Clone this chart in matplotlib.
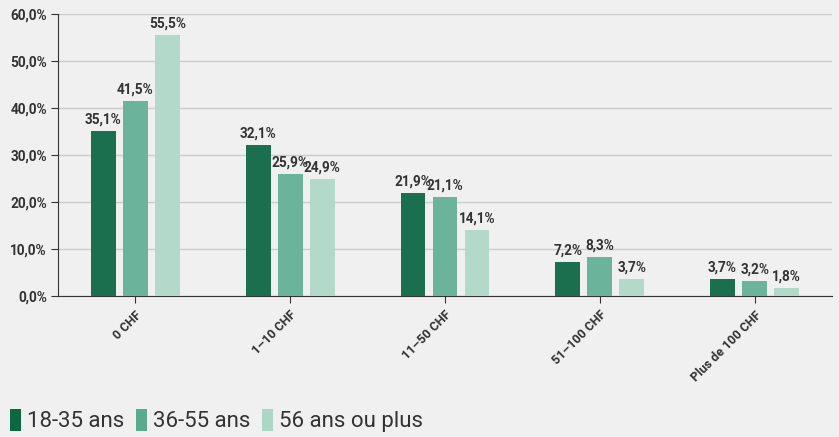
import matplotlib
matplotlib.use("Agg")
import matplotlib.pyplot as plt
import numpy as np
from matplotlib.patches import Patch
from matplotlib.ticker import FuncFormatter

plt.rcParams['font.family'] = ['Roboto', 'DejaVu Sans']

categories = ["0 CHF", "1–10 CHF", "11–50 CHF", "51–100 CHF", "Plus de 100 CHF"]
series_names = ["18-35 ans", "36-55 ans", "56 ans ou plus"]
s1 = [35.1, 32.1, 21.9, 7.2, 3.7]
s2 = [41.5, 25.9, 21.1, 8.3, 3.2]
s3 = [55.5, 24.9, 14.1, 3.7, 1.8]
series = [s1, s2, s3]
colors = ["#1b6f4f", "#6bb39a", "#b2d9ca"]
legend_colors = ["#0e6642", "#5aab8d", "#acd7c6"]
yticks = [0, 10, 20, 30, 40, 50, 60]

bg = "#f0f0f0"
fig = plt.figure(figsize=(8.39, 4.37), dpi=100, facecolor=bg)
ax = fig.add_axes([0.0691, 0.3227, 0.9226, 0.6453], facecolor=bg)

x = np.arange(len(categories))
step = 0.207
width = 0.16
for i, (vals, c) in enumerate(zip(series, colors)):
    pos = x + (i - 1) * step
    ax.bar(pos, vals, width=width, color=c, zorder=3)
    for p, v in zip(pos, vals):
        ax.text(p, v + 0.9, f"{v:.1f}%".replace(".", ","), ha="center", va="bottom",
                fontsize=9.8, fontweight="bold", color="#333333", zorder=4)

ax.set_xlim(-0.5, len(categories) - 0.5)
ax.set_ylim(0, 60)
ax.set_yticks(yticks)
ax.yaxis.set_major_formatter(FuncFormatter(lambda v, p: f"{v:.1f}%".replace(".", ",")))
ax.grid(axis="y", color="#cccccc", linewidth=1, zorder=0)
ax.set_xticks(x)
ax.set_xticklabels(categories, rotation=45, ha="right", rotation_mode="anchor",
                   fontsize=9, fontweight="bold", color="#333333")
for lab in ax.get_yticklabels():
    lab.set_fontweight("bold")
    lab.set_fontsize(9.8)
    lab.set_color("#333333")
ax.tick_params(axis="x", length=5, color="#333333", pad=4)
ax.tick_params(axis="y", length=5, color="#333333", pad=3)
for s in ["top", "right"]:
    ax.spines[s].set_visible(False)
ax.spines["left"].set_color("#333333")
ax.spines["bottom"].set_color("#333333")

handles = [Patch(facecolor=c, edgecolor="none", label=n) for c, n in zip(legend_colors, series_names)]
fig.legend(handles=handles, loc="lower left", bbox_to_anchor=(-0.004, -0.02), ncol=3,
           frameon=False, fontsize=16, handlelength=0.5, handleheight=1.1,
           handletextpad=0.25, columnspacing=0.55, labelcolor="#333333", borderaxespad=0.2)

fig.savefig("out.png", dpi=100, facecolor=bg)
